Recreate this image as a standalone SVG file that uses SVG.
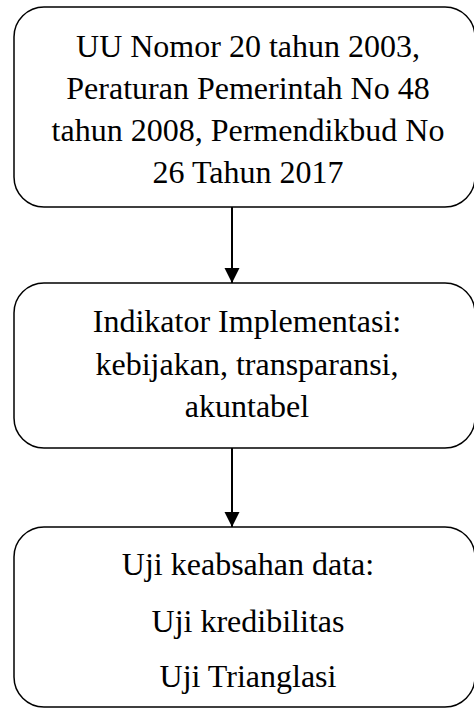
<svg xmlns="http://www.w3.org/2000/svg" width="474" height="709" viewBox="0 0 474 709">
<style>
.box{fill:#fff;stroke:#000;stroke-width:1.5}
.t{font-size:32px;fill:#000;text-anchor:middle}
.c{stroke:#000;stroke-width:2;fill:none}
</style>
<defs>
<marker id="ah" markerUnits="userSpaceOnUse" markerWidth="16" markerHeight="16" refX="15" refY="7.5" orient="auto">
<path d="M0,0 L15,7.5 L0,15 Z" fill="#000"/>
</marker>
</defs>
<rect width="474" height="709" fill="#fff"/>
<g font-family="Liberation Serif, Tinos, DejaVu Serif, serif">
<g id="node1">
<rect class="box" x="14" y="7" width="461" height="200" rx="30" ry="30"/>
<text class="t" x="248" y="57">UU Nomor 20 tahun 2003,</text>
<text class="t" x="248" y="99">Peraturan Pemerintah No 48</text>
<text class="t" x="248" y="141">tahun 2008, Permendikbud No</text>
<text class="t" x="248" y="183">26 Tahun 2017</text>
</g>
<g id="node2">
<rect class="box" x="14" y="283" width="461" height="165" rx="30" ry="30"/>
<text class="t" x="247" y="332">Indikator Implementasi:</text>
<text class="t" x="247" y="375">kebijakan, transparansi,</text>
<text class="t" x="247" y="417">akuntabel</text>
</g>
<g id="node3">
<rect class="box" x="14" y="527" width="461" height="180" rx="30" ry="30"/>
<text class="t" x="248" y="575">Uji keabsahan data:</text>
<text class="t" x="248" y="632">Uji kredibilitas</text>
<text class="t" x="248" y="687">Uji Trianglasi</text>
</g>
</g>
<g id="connectors">
<line class="c" x1="232" y1="207" x2="232" y2="283" marker-end="url(#ah)"/>
<line class="c" x1="232" y1="448" x2="232" y2="527" marker-end="url(#ah)"/>
</g>
</svg>
